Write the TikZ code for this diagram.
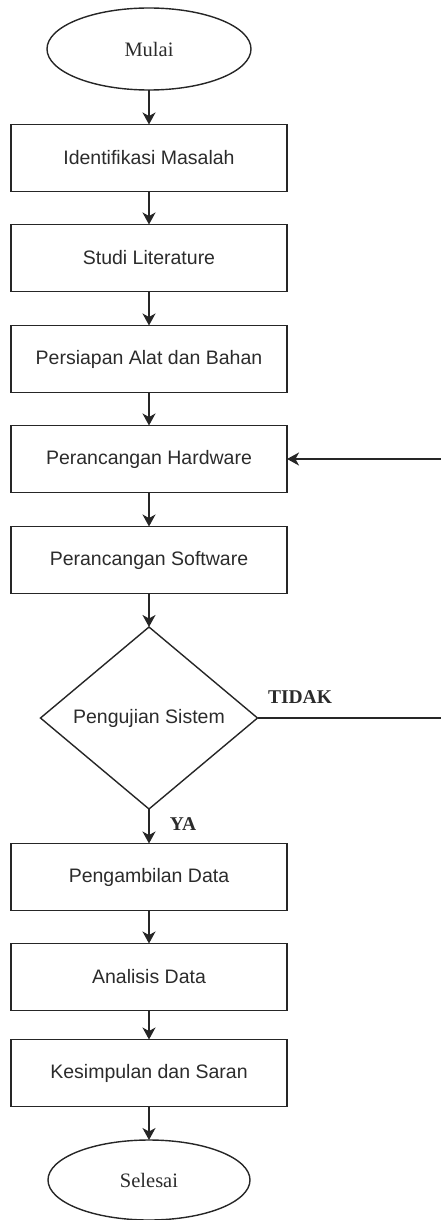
\documentclass[tikz,border=0pt]{standalone}
\usepackage{fontspec}
\setmainfont{Liberation Serif}
\newfontfamily\boxfont{Liberation Sans}
\usetikzlibrary{shapes.geometric,arrows.meta}
\definecolor{linec}{HTML}{262626}
\definecolor{textc}{HTML}{2B2B2B}
\tikzset{
  base/.style={draw=linec, line width=1.4pt, inner sep=0pt, outer sep=0pt, text=textc},
  procbox/.style={base, rectangle, minimum width=276pt, minimum height=67pt,
    font=\boxfont\fontsize{19.5}{23}\selectfont},
  term/.style={base, ellipse, minimum width=204pt, minimum height=82pt,
    font=\fontsize{20.5}{24}\selectfont},
  decide/.style={base, diamond, aspect=1.2, minimum width=217pt, minimum height=182pt,
    font=\boxfont\fontsize{19.5}{23}\selectfont},
  flow/.style={draw=linec, line width=1.5pt, -{Stealth[length=12pt,width=13pt,inset=3.5pt]}},
  lbl/.style={font=\bfseries\fontsize{19.5}{23}\selectfont, text=textc, inner sep=0pt}
}
\begin{document}
\begin{tikzpicture}[x=1pt,y=-1pt]
\useasboundingbox (0,0) rectangle (440,1220);
\node[term] (mulai) at (149,49) {Mulai};
\node[procbox] (identifikasi) at (149,158) {Identifikasi Masalah};
\node[procbox] (studi) at (149,258) {Studi Literature};
\node[procbox] (persiapan) at (149,359) {Persiapan Alat dan Bahan};
\node[procbox] (hardware) at (149,459) {Perancangan Hardware};
\node[procbox] (software) at (149,560) {Perancangan Software};
\node[decide] (uji) at (149,718) {Pengujian Sistem};
\node[procbox] (ambil) at (149,877) {Pengambilan Data};
\node[procbox] (analisis) at (149,977) {Analisis Data};
\node[procbox] (simpul) at (149,1073) {Kesimpulan dan Saran};
\node[term, minimum width=202pt, minimum height=80pt] (selesai) at (149,1180) {Selesai};

\draw[flow] (mulai) -- (identifikasi);
\draw[flow] (identifikasi) -- (studi);
\draw[flow] (studi) -- (persiapan);
\draw[flow] (persiapan) -- (hardware);
\draw[flow] (hardware) -- (software);
\draw[flow] (software) -- (uji);
\draw[flow] (uji) -- (ambil);
\draw[flow] (ambil) -- (analisis);
\draw[flow] (analisis) -- (simpul);
\draw[flow] (simpul) -- (selesai);

\coordinate (fbr) at (444,718);
\coordinate (fbt) at (444,459);
\draw[flow] (uji.east) -- (fbr) -- (fbt) -- (hardware.east);

\node[lbl] (tidak) at (300,697) {TIDAK};
\node[lbl] (ya) at (183,824) {YA};
\end{tikzpicture}
\end{document}
